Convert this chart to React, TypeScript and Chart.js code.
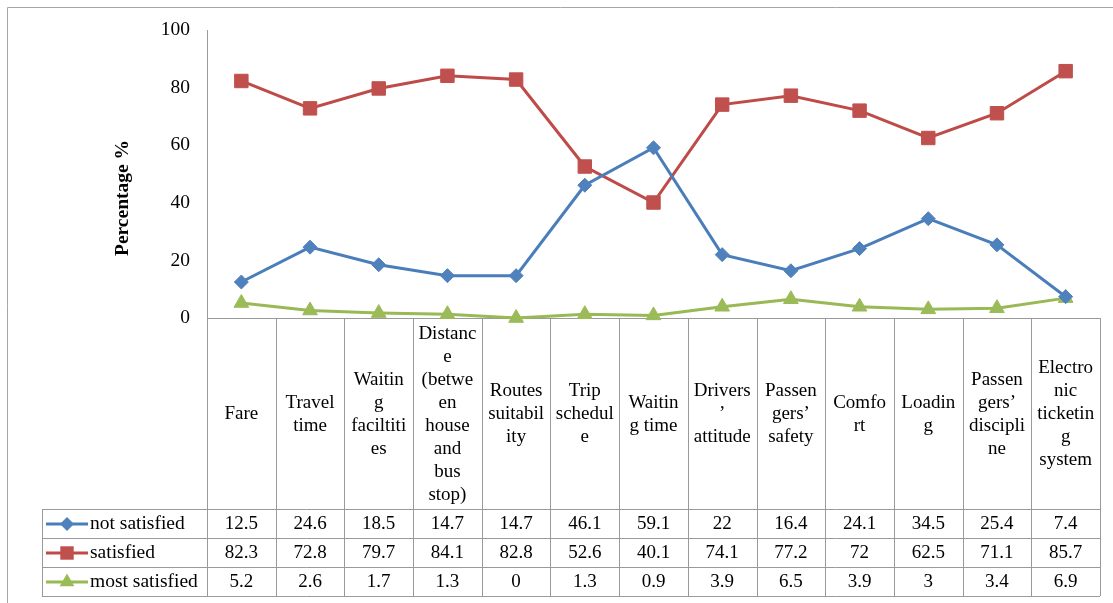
import { useEffect, useRef } from "react";
import { Chart, registerables } from "chart.js";

Chart.register(...registerables);

// Category headings, wrapped line by line as they appear in the table header
const categories: string[][] = [
  ["Fare"],
  ["Travel", "time"],
  ["Waitin", "g", "faciltiti", "es"],
  ["Distanc", "e", "(betwe", "en", "house", "and", "bus", "stop)"],
  ["Routes", "suitabil", "ity"],
  ["Trip", "schedul", "e"],
  ["Waitin", "g time"],
  ["Drivers", "’", "attitude"],
  ["Passen", "gers’", "safety"],
  ["Comfo", "rt"],
  ["Loadin", "g"],
  ["Passen", "gers’", "discipli", "ne"],
  ["Electro", "nic", "ticketin", "g", "system"],
];

const notSatisfied = [12.5, 24.6, 18.5, 14.7, 14.7, 46.1, 59.1, 22, 16.4, 24.1, 34.5, 25.4, 7.4];
const satisfied = [82.3, 72.8, 79.7, 84.1, 82.8, 52.6, 40.1, 74.1, 77.2, 72, 62.5, 71.1, 85.7];
const mostSatisfied = [5.2, 2.6, 1.7, 1.3, 0, 1.3, 0.9, 3.9, 6.5, 3.9, 3, 3.4, 6.9];

const seriesNames = ["not satisfied", "satisfied", "most satisfied"];
const yTicks = [0, 20, 40, 60, 80, 100];
const yTitle = "Percentage %";

const FONT = "'Liberation Serif', 'Times New Roman', serif";
const GRID = "#9a9a9a";

const styles = [
  { line: "#4A7EBB", fill: "#4F81BD", point: "rectRot", radius: 7 },
  { line: "#BE4B48", fill: "#C0504D", point: "rect", radius: 9.5 },
  { line: "#98B954", fill: "#9BBB59", point: "triangle", radius: 8.5 },
];

function markerPath(ctx: CanvasRenderingContext2D, kind: string, x: number, y: number, r: number) {
  ctx.beginPath();
  if (kind === "rectRot") {
    ctx.moveTo(x, y - r);
    ctx.lineTo(x + r, y);
    ctx.lineTo(x, y + r);
    ctx.lineTo(x - r, y);
  } else if (kind === "rect") {
    const s = r * Math.SQRT1_2;
    ctx.rect(x - s, y - s, 2 * s, 2 * s);
  } else {
    ctx.moveTo(x, y - r);
    ctx.lineTo(x + r * Math.sin(Math.PI * 2 / 3), y + r * 0.5);
    ctx.lineTo(x - r * Math.sin(Math.PI * 2 / 3), y + r * 0.5);
  }
  ctx.closePath();
}

// Frame, axis title and the data table under the plot
const dataTablePlugin = {
  id: "dataTable",
  beforeDatasetsDraw(chart: any) {
    const { ctx, chartArea } = chart;
    const { left, right, bottom } = chartArea;
    const xs = chart.scales.x;
    const n = categories.length;
    const colW = (right - left) / n;
    const headerBottom = 509;
    const rowH = 29;
    const legendLeft = 42;
    const tableBottom = headerBottom + rowH * 3;
    const rows = [notSatisfied, satisfied, mostSatisfied];

    ctx.save();
    // outer frame
    ctx.strokeStyle = "#a6a6a6";
    ctx.lineWidth = 1;
    ctx.beginPath();
    ctx.moveTo(7.5, chart.height);
    ctx.lineTo(7.5, 7.5);
    ctx.lineTo(chart.width, 7.5);
    ctx.stroke();

    // y axis title
    ctx.fillStyle = "#000";
    ctx.font = `bold 19.5px ${FONT}`;
    ctx.textAlign = "center";
    ctx.textBaseline = "middle";
    ctx.translate(123, 198);
    ctx.rotate(-Math.PI / 2);
    ctx.fillText(yTitle, 0, 0);
    ctx.setTransform(1, 0, 0, 1, 0, 0);

    // table grid
    ctx.strokeStyle = GRID;
    ctx.lineWidth = 1;
    ctx.beginPath();
    ctx.moveTo(left, Math.round(bottom) + 0.5);
    ctx.lineTo(right, Math.round(bottom) + 0.5);
    for (let r = 0; r <= 3; r++) {
      const y = Math.round(headerBottom + r * rowH) + 0.5;
      ctx.moveTo(legendLeft, y);
      ctx.lineTo(right, y);
    }
    for (let i = 0; i <= n; i++) {
      const x = Math.round(left + i * colW) + 0.5;
      ctx.moveTo(x, bottom);
      ctx.lineTo(x, tableBottom);
    }
    ctx.moveTo(legendLeft + 0.5, headerBottom);
    ctx.lineTo(legendLeft + 0.5, tableBottom);
    ctx.stroke();

    // header text
    ctx.fillStyle = "#000";
    ctx.font = `19px ${FONT}`;
    ctx.textAlign = "center";
    ctx.textBaseline = "middle";
    const lineH = 23;
    const headerMid = (bottom + headerBottom) / 2 + 1;
    categories.forEach((lines, i) => {
      const cx = xs.getPixelForValue(i);
      const y0 = headerMid - ((lines.length - 1) * lineH) / 2;
      lines.forEach((t, k) => ctx.fillText(t, cx, y0 + k * lineH));
    });

    // values and legend keys
    rows.forEach((vals, r) => {
      const cy = headerBottom + r * rowH + rowH / 2 + 0.5;
      ctx.font = `19px ${FONT}`;
      vals.forEach((v, i) => {
        ctx.fillStyle = "#000";
        ctx.fillText(String(v), xs.getPixelForValue(i), cy);
      });
      const st = styles[r];
      ctx.strokeStyle = st.line;
      ctx.lineWidth = 3;
      ctx.beginPath();
      ctx.moveTo(46, cy);
      ctx.lineTo(88, cy);
      ctx.stroke();
      markerPath(ctx, st.point, 67, cy, st.radius);
      ctx.fillStyle = st.fill;
      ctx.fill();
      ctx.fillStyle = "#000";
      ctx.textAlign = "left";
      ctx.font = `19.5px ${FONT}`;
      ctx.fillText(seriesNames[r], 90, cy);
      ctx.textAlign = "center";
    });
    ctx.restore();
  },
};

export default function App() {
  const ref = useRef<HTMLCanvasElement | null>(null);

  useEffect(() => {
    if (!ref.current) return;
    const series = [notSatisfied, satisfied, mostSatisfied];
    const chart = new Chart(ref.current, {
      type: "line",
      data: {
        labels: categories.map((c) => c.join(" ")),
        datasets: series.map((data, i) => ({
          label: seriesNames[i],
          data,
          borderColor: styles[i].line,
          backgroundColor: styles[i].fill,
          pointBackgroundColor: styles[i].fill,
          pointBorderColor: styles[i].fill,
          pointStyle: styles[i].point as any,
          pointRadius: styles[i].radius,
          pointBorderWidth: 1,
          borderWidth: 3,
          tension: 0,
          fill: false,
          clip: false as any,
        })),
      },
      options: {
        animation: false,
        responsive: false,
        devicePixelRatio: 1,
        layout: { padding: { top: 30, right: 13, left: 0, bottom: 0 } },
        plugins: { legend: { display: false }, tooltip: { enabled: false }, title: { display: false } },
        scales: {
          x: {
            type: "category",
            offset: true,
            grid: { display: false, drawTicks: false },
            border: { display: false },
            ticks: { display: false },
            afterFit: (s: any) => {
              s.height = 285;
            },
          },
          y: {
            min: 0,
            max: 100,
            afterBuildTicks: (s: any) => {
              s.ticks = yTicks.map((v) => ({ value: v }));
            },
            grid: { display: false, drawTicks: false },
            border: { display: true, color: GRID, width: 1 },
            ticks: {
              color: "#000",
              padding: 17,
              font: { family: FONT, size: 19.5 },
            },
            afterFit: (s: any) => {
              s.width = 207;
            },
          },
        },
      },
      plugins: [dataTablePlugin],
    });
    return () => chart.destroy();
  }, []);

  return (
    <div style={{ position: "fixed", left: 0, top: 0, width: 1113, height: 603, background: "#fff" }}>
      <canvas ref={ref} width={1113} height={603} />
    </div>
  );
}
